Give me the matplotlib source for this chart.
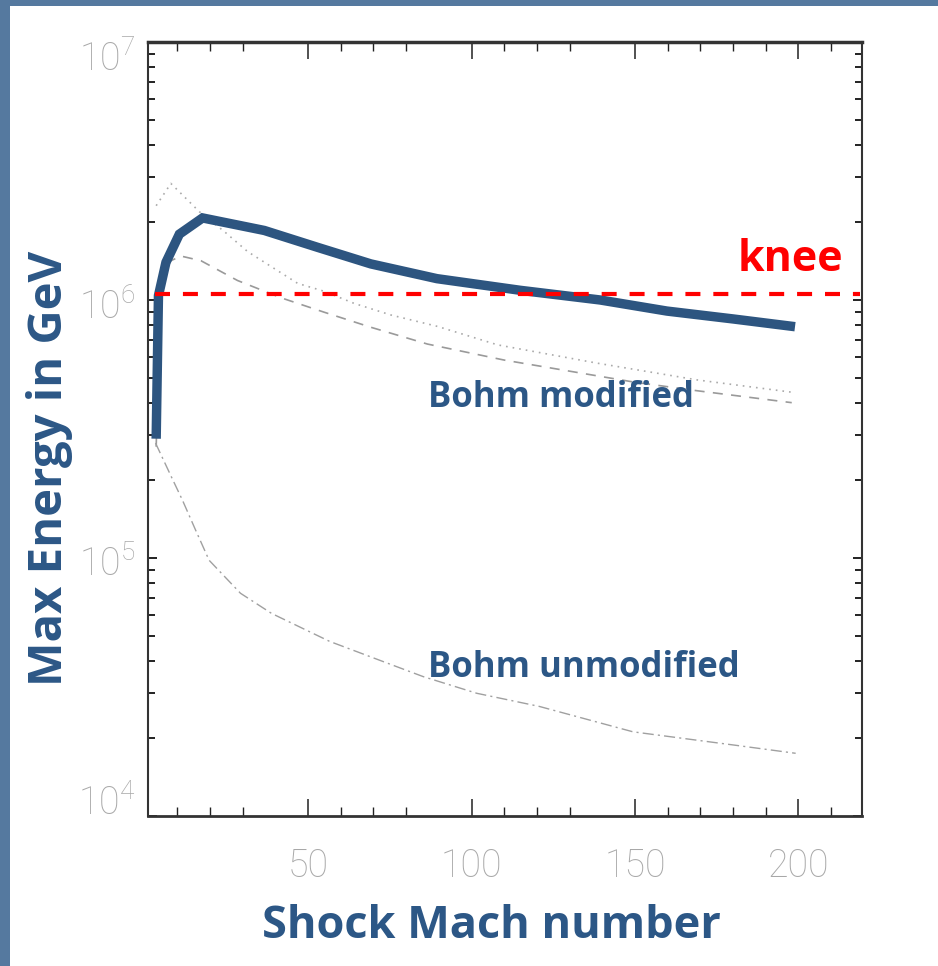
"""
max_energy_mach.py

Maximum particle energy versus shock Mach number (Bohm modified / unmodified).

Output:
    out.png
"""

import matplotlib
matplotlib.use("Agg")
import matplotlib.pyplot as plt
from matplotlib.patches import Rectangle
from matplotlib.transforms import ScaledTranslation
from matplotlib.ticker import NullFormatter


# thick solid curve
mach_solid = [3.5, 4.2, 6.5, 10.6, 17.7, 36.6, 52.9, 69.2, 89.4, 115, 139.4, 159.8, 180.2, 199]
emax_solid = [2.9e5, 1.04e6, 1.40e6, 1.80e6, 2.08e6, 1.86e6, 1.60e6, 1.38e6, 1.21e6,
              1.09e6, 1.0e6, 9.06e5, 8.44e5, 7.88e5]

# dotted grey curve
mach_dotted = [3.5, 8.0, 16.7, 24.4, 31.5, 38.6, 46.8, 55, 64.1, 75.3, 89.6, 108, 138.5, 169.1, 198.7]
emax_dotted = [2.32e6, 2.83e6, 2.2e6, 1.84e6, 1.54e6, 1.35e6, 1.16e6, 1.08e6, 9.7e5, 8.75e5,
               7.9e5, 6.7e5, 5.69e5, 4.9e5, 4.38e5]

# dashed grey curve (Bohm modified)
mach_dashed = [3.5, 5, 8, 11.1, 17.2, 28.4, 41.7, 55, 69.2, 86.5, 110, 150, 169, 198]
emax_dashed = [2.7e5, 1.2e6, 1.42e6, 1.48e6, 1.42e6, 1.19e6, 1.02e6, 8.96e5, 7.84e5, 6.75e5,
               5.85e5, 4.8e5, 4.45e5, 4.0e5]

# dash-dot grey curve (Bohm unmodified)
mach_unmod = [3.3, 8.1, 11.5, 15.6, 19.7, 29.3, 38.8, 56.6, 74.3, 85.2, 101.6, 120.7, 149.4, 180.8, 199.2]
emax_unmod = [2.79e5, 2.07e5, 1.68e5, 1.28e5, 9.8e4, 7.3e4, 6.1e4, 4.75e4, 3.91e4, 3.47e4,
              2.99e4, 2.66e4, 2.12e4, 1.88e4, 1.75e4]

knee_energy = 1.055e6
knee_range = [3, 219]

x_major = [50, 100, 150, 200]
x_minor = [10, 20, 30, 60, 70, 80, 110, 120, 130, 160, 170, 180, 190, 210]
y_major = [1e4, 1e5, 1e6, 1e7]
y_labels = ["$10^{4}$", "$10^{5}$", "$10^{6}$", "$10^{7}$"]
y_label_shift_px = [16, -3, -4, -14]

NAVY = "#2c5786"
GREY_TXT = "#a8a8a8"


def main() -> None:
    plt.rcParams["mathtext.fontset"] = "custom"
    plt.rcParams["mathtext.rm"] = "Roboto:light"
    plt.rcParams["mathtext.it"] = "Roboto:light"
    plt.rcParams["font.family"] = ["Roboto", "DejaVu Sans"]
    plt.rcParams["font.weight"] = "light"

    fig = plt.figure(figsize=(9.38, 9.66), dpi=100)
    fig.patch.set_facecolor("#55799f")
    fig.add_artist(Rectangle((10 / 938, 0), 1, 1 - 6 / 966, transform=fig.transFigure,
                             facecolor="white", edgecolor="none", zorder=0))

    ax = fig.add_axes([148 / 938, 150 / 966, 714 / 938, 774 / 966])
    ax.set_facecolor("white")
    ax.set_yscale("log")
    ax.set_xlim(1, 219.5)
    ax.set_ylim(1e4, 1e7)

    ax.plot(mach_dotted, emax_dotted, color="#aaaaaa", lw=1.2, ls=(0, (1, 3)))
    ax.plot(mach_dashed, emax_dashed, color="#9a9a9a", lw=1.2, ls=(0, (6, 5)))
    ax.plot(mach_unmod, emax_unmod, color="#a0a0a0", lw=1.0, ls=(0, (8, 3, 1.5, 3)))
    ax.plot(mach_solid, emax_solid, color="#2d5580", lw=6.8, solid_joinstyle="miter",
            solid_capstyle="butt")
    ax.plot(knee_range, [knee_energy, knee_energy], color="#ff0000", lw=3,
            ls=(0, (3.6, 3.1)))

    ax.text(181.3, 1.29e6, "knee", color="#ff0000", fontsize=31, fontweight="bold",
            family="Open Sans", ha="left", va="baseline")
    ax.text(86.8, 3.85e5, "Bohm modified", color=NAVY, fontsize=25, fontweight="bold",
            family="Open Sans", ha="left", va="baseline")
    ax.text(86.8, 3.46e4, "Bohm unmodified", color=NAVY, fontsize=25, fontweight="bold",
            family="Open Sans", ha="left", va="baseline")

    ax.set_xticks(x_major)
    ax.set_xticks(x_minor, minor=True)
    ax.set_yticks(y_major)
    ax.set_yticklabels(y_labels)
    ax.yaxis.set_minor_formatter(NullFormatter())

    ax.tick_params(axis="x", which="major", direction="in", length=12, width=1.1,
                   top=True, pad=23, labelsize=27, labelcolor=GREY_TXT, color="#222222")
    ax.tick_params(axis="x", which="minor", direction="in", length=6.5, width=1.0,
                   top=True, color="#222222")
    ax.tick_params(axis="y", which="major", direction="in", length=6.5, width=1.4,
                   right=True, pad=9, labelsize=27, labelcolor=GREY_TXT, color="#222222")
    ax.tick_params(axis="y", which="minor", direction="in", length=5, width=1.4,
                   right=True, color="#222222")

    for lab in ax.get_xticklabels():
        lab.set_fontweight("light")
    for lab, dy in zip(ax.get_yticklabels(), y_label_shift_px):
        lab.set_transform(lab.get_transform() + ScaledTranslation(0, dy / 100, fig.dpi_scale_trans))

    for side in ["left", "right", "bottom", "top"]:
        ax.spines[side].set_color("#333333")
        ax.spines[side].set_linewidth(1.5)
    ax.spines["top"].set_linewidth(2.5)
    ax.spines["bottom"].set_linewidth(2.0)

    fig.text(491 / 938, 1 - 927 / 966, "Shock Mach number", color=NAVY, fontsize=32.5,
             fontweight="bold", family="Open Sans", ha="center", va="center")
    fig.text(50 / 938, 1 - 468 / 966, "Max Energy in GeV", color=NAVY, fontsize=34,
             fontweight="bold", family="Open Sans", ha="center", va="center", rotation=90)

    fig.savefig("out.png", dpi=100, facecolor=fig.get_facecolor())
    plt.close(fig)


if __name__ == "__main__":
    main()
